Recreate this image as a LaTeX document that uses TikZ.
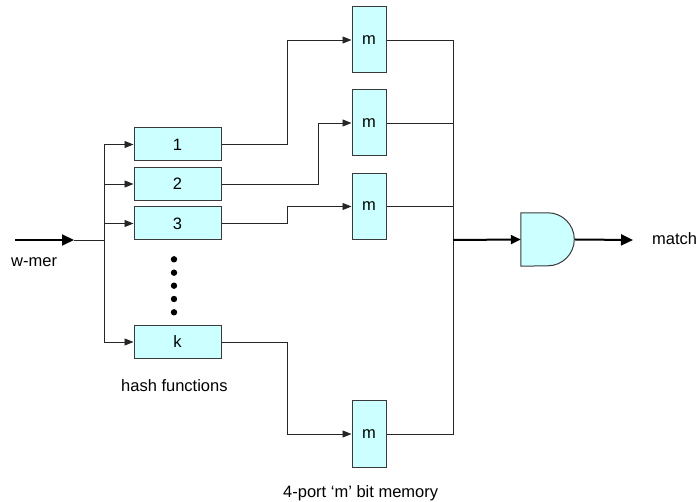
\documentclass[tikz,border=0pt]{standalone}
\usepackage{fontspec}
\setmainfont{Liberation Sans}
\usetikzlibrary{arrows.meta,calc}
\definecolor{boxfill}{HTML}{CCFFFF}
\definecolor{boxline}{HTML}{3A3A3A}
\tikzset{
  hashbox/.style={draw=boxline, fill=boxfill, line width=1pt, minimum width=87pt, minimum height=33pt, inner sep=0pt, font=\fontsize{16.5}{18}\selectfont},
  membox/.style={draw=boxline, fill=boxfill, line width=1pt, minimum width=34pt, minimum height=66pt, inner sep=0pt, font=\fontsize{16.5}{18}\selectfont},
  wire/.style={draw=black!85, line width=0.9pt},
  arr/.style={wire, -{Triangle[length=9pt,width=7pt]}},
  thickarr/.style={draw=black, line width=2pt, -{Triangle[length=12pt,width=11pt]}},
  lbl/.style={inner sep=0pt, font=\fontsize{16.5}{18}\selectfont},
  dotmark/.style={fill=black, draw=none}
}
\begin{document}
\begin{tikzpicture}[x=1pt,y=-1pt]
\useasboundingbox (0,0) rectangle (699,502);
% hash function boxes
\node[hashbox] (h1) at (177.5,144.5) {1};
\node[hashbox] (h2) at (177.5,184) {2};
\node[hashbox] (h3) at (177.5,223.5) {3};
\node[hashbox] (hk) at (177.5,342) {k};
% memory boxes
\node[membox] (m1) at (369,40) {m};
\node[membox] (m2) at (369,123) {m};
\node[membox] (m3) at (369,206.5) {m};
\node[membox] (m4) at (369,434) {m};
% dots
\foreach \yy in {259.3,272.7,285.7,299,312.3}
  \fill[dotmark] (174,\yy) circle (3.2pt);
% input
\coordinate (win) at (15,240);
\coordinate (wtip) at (74,240);
\coordinate (split) at (104,240);
\draw[thickarr] (win) -- (wtip);
\draw[wire] (wtip) -- (split);
\draw[wire] (h1.west -| split) -- (hk.west -| split);
\draw[arr] (h1.west -| split) -- (h1.west);
\draw[arr] (h2.west -| split) -- (h2.west);
\draw[arr] (h3.west -| split) -- (h3.west);
\draw[arr] (hk.west -| split) -- (hk.west);
% hash -> memory
\coordinate (xa) at (287,0);
\coordinate (xb) at (318,0);
\draw[arr] (h1.east) -- (h1.east -| xa) |- (m1.west);
\draw[arr] (h2.east) -- (h2.east -| xb) |- (m2.west);
\draw[arr] (h3.east) -- (h3.east -| xa) |- (m3.west);
\draw[arr] (hk.east) -- (hk.east -| xa) |- (m4.west);
% memory outputs to bus
\coordinate (xbus) at (453,0);
\draw[wire] (m1.east) -- (m1.east -| xbus) -- (m4.east -| xbus) -- (m4.east);
\draw[wire] (m2.east) -- (m2.east -| xbus);
\draw[wire] (m3.east) -- (m3.east -| xbus);
% AND gate
\node[minimum width=54pt, minimum height=53pt, inner sep=0pt] (gate) at (548,239.5) {};
\draw[draw=boxline, fill=boxfill, line width=1pt]
  (gate.north west) -- ++(27,0) arc[start angle=90, end angle=-90, radius=26.5pt] -- (gate.south west) -- cycle;
\coordinate (busj) at (453,240);
\draw[draw=black, line width=2pt, -{Triangle[length=10pt,width=9pt]}] (busj) -- (gate.west);
\coordinate (mtip) at (633,240);
\draw[thickarr] (gate.east) -- (mtip);
% labels
\node[lbl, anchor=base west] (lmatch) at (652,245) {match};
\node[lbl, anchor=base west] (lwmer) at (11,267) {w-mer};
\node[lbl, anchor=base west] (lhash) at (121,392) {hash functions};
\node[lbl, anchor=base west] (lmem) at (283,497) {4-port ‘m’ bit memory};
\end{tikzpicture}
\end{document}
